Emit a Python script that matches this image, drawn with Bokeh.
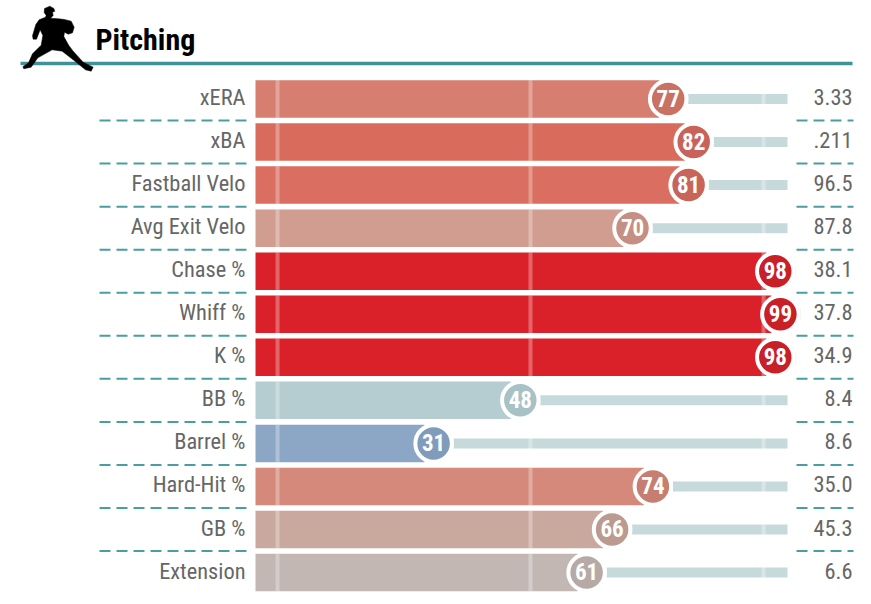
from bokeh.plotting import figure
from bokeh.models import ColumnDataSource
from bokeh.core.properties import value
from bokeh.embed import file_html
from bokeh.resources import INLINE

categories = ["xERA", "xBA", "Fastball Velo", "Avg Exit Velo", "Chase %", "Whiff %", "K %",
              "BB %", "Barrel %", "Hard-Hit %", "GB %", "Extension"]
percentiles = [77, 82, 81, 70, 98, 99, 98, 48, 31, 74, 66, 61]
stat_labels = ["3.33", ".211", "96.5", "87.8", "38.1", "37.8", "34.9", "8.4", "8.6", "35.0", "45.3", "6.6"]
bar_colors = ["#d67e6f", "#d96b5c", "#da6e60", "#d09d90", "#da2129", "#da2129", "#da2129",
              "#b5cdd1", "#8ba7c5", "#d4897a", "#c9a89d", "#c2b7b3"]
dot_colors = ["#c97264", "#c9635a", "#c86558", "#c68f83", "#c91f27", "#c91f27", "#c91f27",
              "#a8c1c5", "#7f9cba", "#c57e70", "#bb9b90", "#b5aaa6"]
ref_lines = [0.4, 50, 95.7]
title = "Pitching"

FONT = "'Roboto Condensed', 'Liberation Sans Narrow', Roboto, sans-serif"
SX, X0 = 5.1, 275.0
SY, Y0 = 43.05, 98.5
def xd(px): return (px - X0) / SX
def yd(px): return (px - Y0) / SY

W, H = 855, 596
p = figure(width=W, height=H, output_backend="svg", toolbar_location=None,
           x_range=(xd(0), xd(W)), y_range=(yd(H), yd(0)),
           x_axis_type=None, y_axis_type=None, min_border=0)
p.grid.visible = False
p.outline_line_color = None
p.background_fill_color = None
p.border_fill_color = None

ys = list(range(len(categories)))
src = ColumnDataSource(dict(
    y=ys, cat=categories, v=percentiles, stat=stat_labels, bar=bar_colors, dot=dot_colors,
    pct=[str(v) for v in percentiles],
    end=[v - 9 / SX for v in percentiles],
    tstart=[v + 20 / SX for v in percentiles],
    lx=[xd(245)] * 12, rx=[xd(852)] * 12,
))

# header rule
p.segment(x0=[xd(20)], x1=[xd(852)], y0=[yd(63)], y1=[yd(63)], line_color="#3f9297", line_width=3.6)

# pitcher silhouette (icon)
icon = [(132,24),(148,17),(160,24),(163,32),(156,35),(158,45),(150,53),(175,55),(192,57),(212,62),
        (221,80),(216,97),(203,101),(192,95),(190,108),(205,135),(218,152),(248,185),(278,200),
        (272,212),(255,208),(218,178),(185,152),(155,148),(112,172),(92,200),(70,205),(67,199),
        (84,187),(96,160),(122,134),(127,105),(119,88),(108,116),(98,116),(96,106),
        (106,72),(116,58),(135,50),(137,45),(131,36)]
p.patch([xd(a / 3) for a, b in icon], [yd(b / 3) for a, b in icon], fill_color="#000000", line_color="#000000", line_width=0.5)

p.text(x=[xd(95)], y=[yd(39)], text=[title], text_font=value(FONT), text_font_style="bold",
       text_font_size="30px", text_color="#000000", text_align="left", text_baseline="middle")

# separators
sep = [i + 0.5 for i in range(len(categories) - 1)]
p.segment(x0=[xd(99)] * 11, x1=[xd(246)] * 11, y0=sep, y1=sep, line_color="#4a9da0", line_width=2, line_dash="11 6")
p.segment(x0=[xd(796)] * 11, x1=[xd(853)] * 11, y0=sep, y1=sep, line_color="#4a9da0", line_width=2, line_dash="11 6")

# tracks and bars
p.hbar(y="y", left="tstart", right=xd(787), height=10 / SY, source=src, fill_color="#c6dadb", line_color=None)
p.hbar(y="y", left=xd(255), right="end", height=37.5 / SY, source=src, fill_color="bar", line_color=None)

# reference lines
for r in ref_lines:
    p.segment(x0=[r] * 12, x1=[r] * 12, y0=[y - 18.75 / SY for y in ys], y1=[y + 18.75 / SY for y in ys],
              line_color="#ffffff", line_width=4, line_alpha=0.3)

# dots
p.scatter(x="v", y="y", size=36.5, source=src, fill_color="dot", line_color="#ffffff", line_width=4)
p.text(x="v", y="y", text="pct", source=src, text_font=value(FONT), text_font_style="bold", y_offset=-1,
       text_font_size="23px", text_color="#ffffff", text_align="center", text_baseline="middle")

# labels
p.text(x="lx", y="y", text="cat", source=src, text_font=value(FONT), text_font_size="22.4px", y_offset=-2,
       text_color="#666666", text_align="right", text_baseline="middle")
p.text(x="rx", y="y", text="stat", source=src, text_font=value(FONT), text_font_size="22.4px", y_offset=-2,
       text_color="#666666", text_align="right", text_baseline="middle")

open("out.html", "w").write(file_html(p, INLINE))
